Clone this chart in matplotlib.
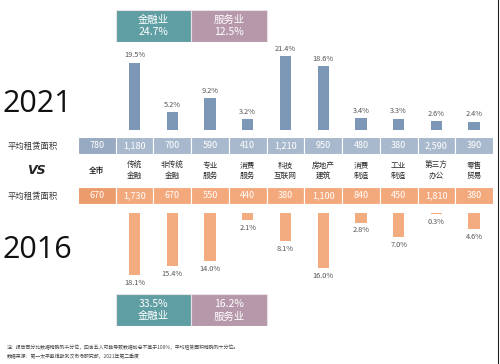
import numpy as np
import matplotlib
matplotlib.use('Agg')
import matplotlib.pyplot as plt

plt.rcParams['font.family'] = ['Noto Sans CJK SC', 'DejaVu Sans']

W, H = 500, 364

# data
columns = ['全市', '传统\n金融', '非传统\n金融', '专业\n服务', '消费\n服务', '科技\n互联网',
           '房地产\n建筑', '消费\n制造', '工业\n制造', '第三方\n办公', '零售\n贸易']
share_2021 = [None, 19.5, 5.2, 9.2, 3.2, 21.4, 18.6, 3.4, 3.3, 2.6, 2.4]
share_2016 = [None, 18.1, 15.4, 14.0, 2.1, 8.1, 16.0, 2.8, 7.0, 0.3, 4.6]
area_2021 = [780, 1180, 700, 590, 410, 1210, 950, 480, 380, 2590, 390]
area_2016 = [670, 1730, 670, 550, 440, 380, 1100, 840, 450, 1810, 380]
groups = ['金融业', '服务业']
group_2021 = [24.7, 12.5]
group_2016 = [33.5, 16.2]
group_pos = [1.5, 3.5]

BLUE_BAR = '#7d98b6'
BLUE_CELL = '#a8b9cd'
BLUE_CELL0 = '#97aac2'
ORANGE_BAR = '#f3ab80'
ORANGE_CELL = '#f4a97d'
ORANGE_CELL0 = '#ec9b6b'
TEAL = '#5f9ea3'
MAUVE = '#b698aa'
GRAY = '#555555'

fig = plt.figure(figsize=(W / 100, H / 100), dpi=100)
fig.patch.set_facecolor('white')


def px_axes(x0, y0, x1, y1):
    ax = fig.add_axes([x0 / W, 1 - y1 / H, (x1 - x0) / W, (y1 - y0) / H])
    ax.set_axis_off()
    return ax


X0, X1 = 78, 493
n = len(columns)
xs = np.arange(n)
PX_PER_PCT = 3.44

# top bars (2021)
top_base, top_top = 130, 40
ax_t = px_axes(X0, top_top, X1, top_base)
ax_t.set_xlim(-0.5, n - 0.5)
ax_t.set_ylim(0, (top_base - top_top) / PX_PER_PCT)
for i, v in enumerate(share_2021):
    if v is None:
        continue
    ax_t.bar(i, v, width=0.3, color=BLUE_BAR)
    ax_t.text(i, v + 1.0, '%.1f%%' % v, ha='center', va='bottom', fontsize=5.3, color=GRAY)

# bottom bars (2016)
bot_base, bot_end = 213, 300
ax_b = px_axes(X0, bot_base, X1, bot_end)
ax_b.set_xlim(-0.5, n - 0.5)
ax_b.set_ylim((bot_end - bot_base) / PX_PER_PCT, 0)
for i, v in enumerate(share_2016):
    if v is None:
        continue
    ax_b.bar(i, v, width=0.3, color=ORANGE_BAR)
    ax_b.text(i, v + 1.1, '%.1f%%' % v, ha='center', va='top', fontsize=5.3, color=GRAY)

# table rows
def table_row(y0, y1, vals, c0, c):
    ax = px_axes(X0, y0, X1, y1)
    ax.set_xlim(-0.5, n - 0.5)
    ax.set_ylim(0, 1)
    colors = [c0] + [c] * (n - 1)
    ax.bar(xs, 1, width=1, color=colors, edgecolor='white', linewidth=0.8)
    for i, v in enumerate(vals):
        ax.text(i, 0.48, '{:,}'.format(v), ha='center', va='center', fontsize=6.5, color='white')

table_row(137, 154, area_2021, BLUE_CELL0, BLUE_CELL)
table_row(187, 204, area_2016, ORANGE_CELL0, ORANGE_CELL)

# column labels
ax_l = px_axes(X0, 158, X1, 184)
ax_l.set_xlim(-0.5, n - 0.5)
ax_l.set_ylim(0, 1)
for i, lab in enumerate(columns):
    ax_l.text(i, 0.5, lab, ha='center', va='center', fontsize=5.5, color='#2a2a2a',
              fontweight='bold' if i == 0 else 'medium', linespacing=1.3)

# group boxes
def group_boxes(y0, y1, vals, pct_first):
    ax = px_axes(X0, y0, X1, y1)
    ax.set_xlim(-0.5, n - 0.5)
    ax.set_ylim(0, 1)
    ax.bar(group_pos, 1, width=2, color=[TEAL, MAUVE], edgecolor='#e8e0e4', linewidth=0.8)
    for p, g, v in zip(group_pos, groups, vals):
        if pct_first:
            ax.text(p, 0.7, '%.1f%%' % v, ha='center', va='center', fontsize=7.5, color='white')
            ax.text(p, 0.3, g, ha='center', va='center', fontsize=7.5, color='white')
        else:
            ax.text(p, 0.7, g, ha='center', va='center', fontsize=7.5, color='white')
            ax.text(p, 0.3, '%.1f%%' % v, ha='center', va='center', fontsize=7.5, color='white')

group_boxes(10, 42, group_2021, False)
group_boxes(294, 326, group_2016, True)

# overlay text
ov = px_axes(0, 0, W, H)
ov.set_xlim(0, W)
ov.set_ylim(H, 0)
ov.text(3, 104, '2021', fontsize=22, family=['Open Sans', 'DejaVu Sans'], va='center', ha='left', color='#111111')
ov.text(3, 250, '2016', fontsize=22, family=['Open Sans', 'DejaVu Sans'], va='center', ha='left', color='#111111')
ov.text(8, 146, '平均租赁面积', fontsize=6, va='center', ha='left', color='#333333')
ov.text(8, 196, '平均租赁面积', fontsize=6, va='center', ha='left', color='#333333')
ov.text(36, 171, 'VS', fontsize=9, fontweight='bold', style='italic', va='center', ha='center',
        family=['DejaVu Sans'], color='#222222')
ov.text(7, 348, '注：报告百分比数据精确到千分位，四舍五入可能导致数据加总不等于100%，平均租赁面积精确到十分位。',
        fontsize=3.5, va='center', ha='left', color='#444444')
ov.text(7, 357, '数据来源：第一太平戴维斯武汉市场研究部，2021年第二季度',
        fontsize=3.5, va='center', ha='left', color='#444444')
ov.plot([498, 498], [0, 364], color='#222222', linewidth=0.8)

fig.savefig('out.png', dpi=100)
